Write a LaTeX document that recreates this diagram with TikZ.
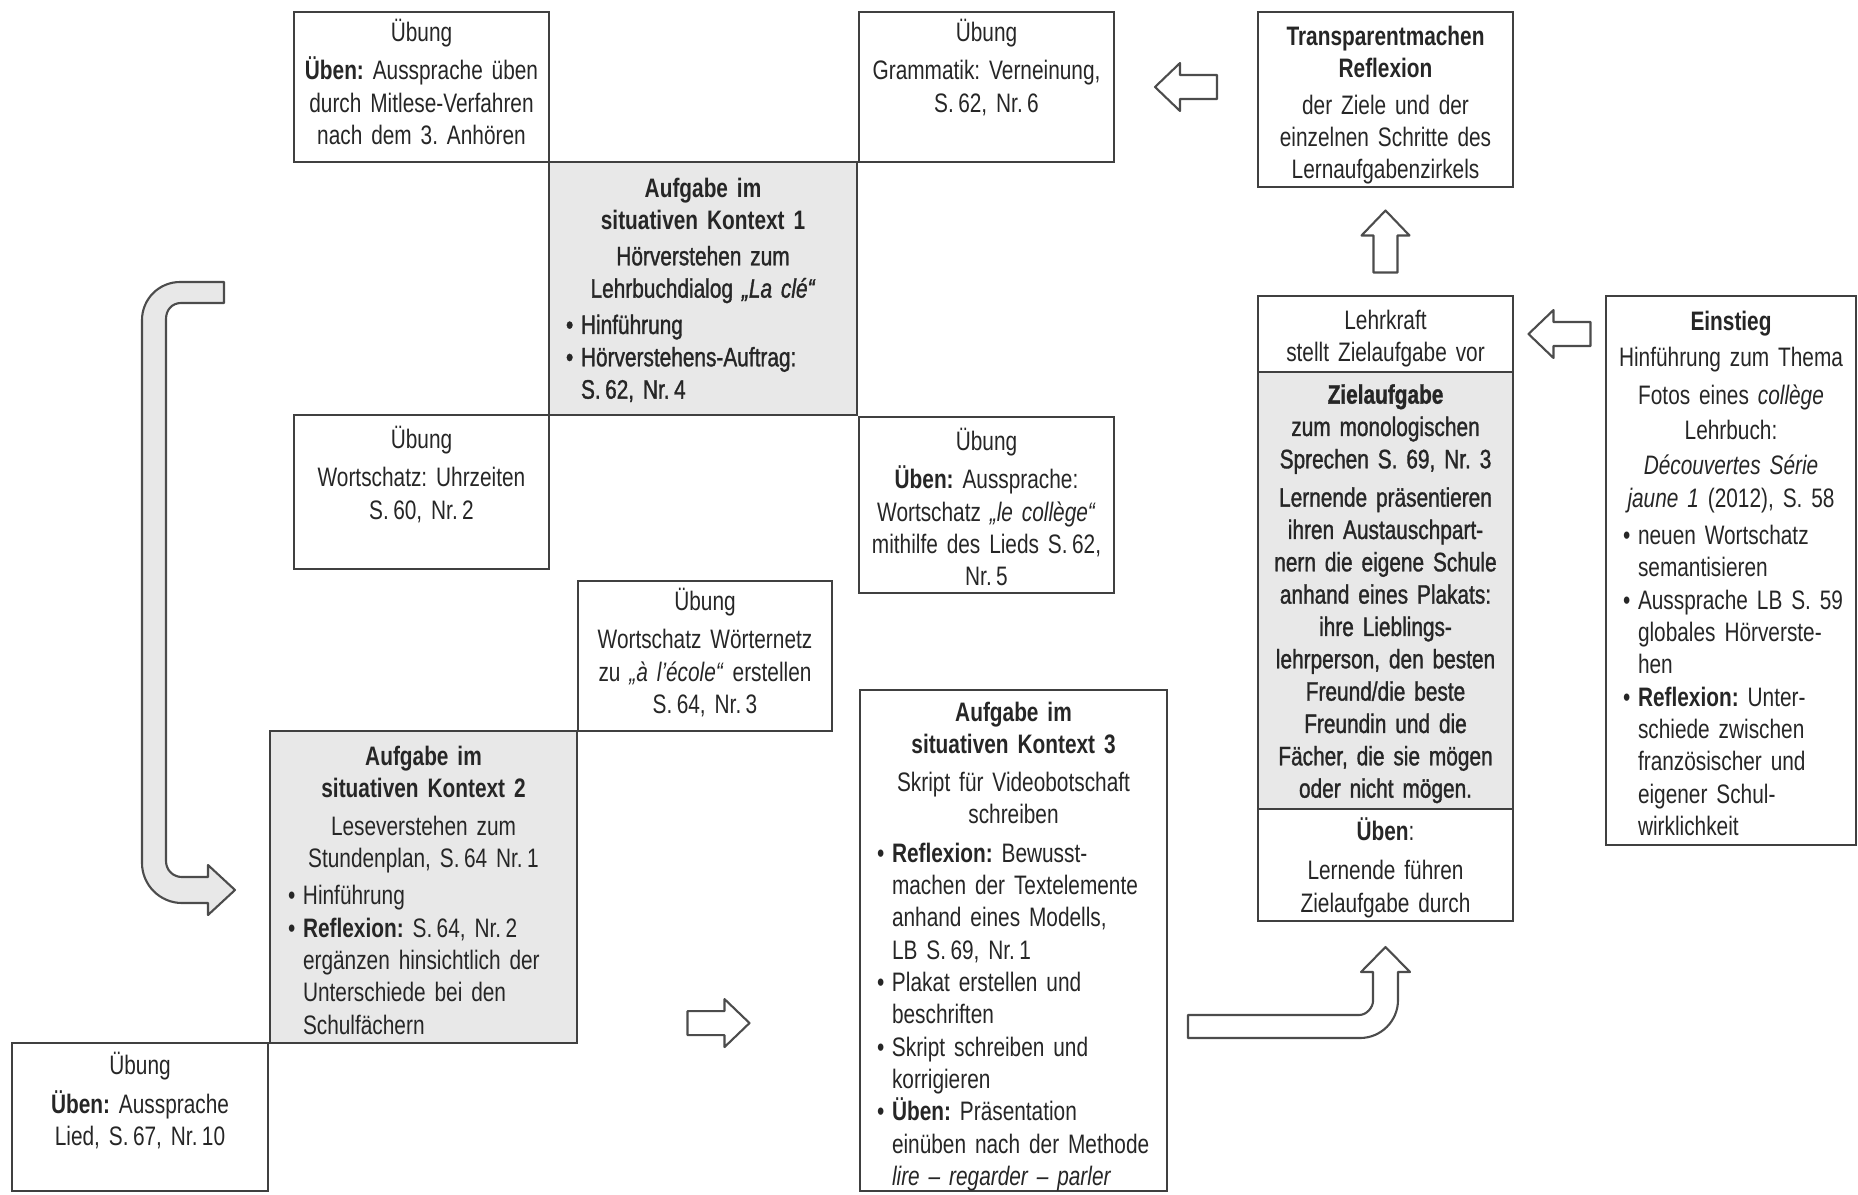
\documentclass[tikz,border=0pt]{standalone}
\usepackage{fontspec}
\setmainfont{Liberation Sans}[FakeStretch=0.78,WordSpace=0.75]
\newfontfamily\medfont{Liberation Sans}[FakeStretch=0.78,WordSpace=0.75,FakeBold=1.2]
\usetikzlibrary{positioning,fit,calc}

\frenchspacing
\newcommand{\blt}{\makebox[1.5mm][l]{\textbullet}}
\newcommand{\bltind}{\hspace*{1.5mm}}
\newcommand{\fst}[1][3.2mm]{\rule{0pt}{#1}}
\newcommand{\ctr}[1]{\makebox[\linewidth]{#1}}

\begin{document}
\begin{tikzpicture}[x=0.1mm, y=-0.1mm,
  box/.style={draw=black!75, line width=0.6pt, inner sep=0pt},
  gbox/.style={box, fill=black!9},
  txt/.style={anchor=north, inner sep=0pt, align=center, text=black!85,
    font=\fontsize{7.6}{9.2}\selectfont},
  lst/.style={txt, align=left},
  blk/.style={draw=black!70, line width=0.6pt, fill=white, line join=round},
  brk/.style={blk, fill=black!9}]

\useasboundingbox (0,0) rectangle (1858,1194);

%------------------ STAIRCASE OF EXERCISES ------------------%
\node[box, fit={(294,12) (549,162)}] (U1) {};
\node[txt, text width=25mm] (U1t) at (U1.north)
  {\fst[3mm]Übung\\[0.6mm]\textbf{Üben:} Aussprache üben\\durch Mitlese-Verfahren\\nach dem 3. Anhören};

\node[box, fit={(859,12) (1114,162)}] (U2) {};
\node[txt, text width=25mm] (U2t) at (U2.north)
  {\fst[3mm]Übung\\[0.6mm]Grammatik: Verneinung,\\S.\,62, Nr.\,6};

\node[gbox, fit={(549,162) (857,415)}] (A1) {};
\node[lst, text width=27.4mm] (A1t) at (A1.north)
  {\ctr{\fst[3.6mm]\textbf{Aufgabe im}}\\
   \ctr{\textbf{situativen Kontext 1}}\\[0.3mm]
   {\medfont\ctr{Hörverstehen zum}\\
   \ctr{Lehrbuchdialog \textit{„La clé“}}\\[0.4mm]
   \blt Hinführung\\
   \blt Hörverstehens-Auftrag:\\
   \bltind S.\,62, Nr.\,4}};

\node[box, fit={(294,415) (549,569)}] (U3) {};
\node[txt, text width=25mm] (U3t) at (U3.north)
  {\fst[3.4mm]Übung\\[0.6mm]Wortschatz: Uhrzeiten\\S.\,60, Nr.\,2};

\node[box, fit={(859,417) (1114,593)}] (U4) {};
\node[txt, text width=25mm] (U4t) at (U4.north)
  {\fst[3.4mm]Übung\\[0.6mm]\textbf{Üben:} Aussprache:\\Wortschatz \textit{„le collège“}\\mithilfe des Lieds S.\,62,\\Nr.\,5};

\node[box, fit={(578,581) (832,731)}] (U5) {};
\node[txt, text width=25mm] (U5t) at (U5.north)
  {\fst[3mm]Übung\\[0.6mm]Wortschatz Wörternetz\\zu \textit{„à l’école“} erstellen\\S.\,64, Nr.\,3};

\node[gbox, fit={(270,731) (577,1043)}] (A2) {};
\node[lst, text width=27.1mm] (A2t) at (A2.north)
  {\ctr{\fst[3.5mm]\textbf{Aufgabe im}}\\
   \ctr{\textbf{situativen Kontext 2}}\\[0.5mm]
   \ctr{Leseverstehen zum}\\
   \ctr{Stundenplan, S.\,64 Nr.\,1}\\[0.5mm]
   \blt Hinführung\\
   \blt\textbf{Reflexion:} S.\,64, Nr.\,2\\
   \bltind ergänzen hinsichtlich der\\
   \bltind Unterschiede bei den\\
   \bltind Schulfächern};

\node[box, fit={(12,1043) (268,1191)}] (U6) {};
\node[txt, text width=25mm] (U6t) at (U6.north)
  {\fst Übung\\[0.6mm]\textbf{Üben:} Aussprache\\Lied, S.\,67, Nr.\,10};

\node[box, fill=white, fit={(860,690) (1167,1191)}] (A3) {};
\node[lst, text width=27.3mm] (A3t) at (A3.north)
  {\ctr{\fst\textbf{Aufgabe im}}\\
   \ctr{\textbf{situativen Kontext 3}}\\[0.5mm]
   \ctr{Skript für Videobotschaft}\\
   \ctr{schreiben}\\[0.6mm]
   \blt\textbf{Reflexion:} Bewusst-\\
   \bltind machen der Textelemente\\
   \bltind anhand eines Modells,\\
   \bltind LB S.\,69, Nr.\,1\\
   \blt Plakat erstellen und\\
   \bltind beschriften\\
   \blt Skript schreiben und\\
   \bltind korrigieren\\
   \blt\textbf{Üben:} Präsentation\\
   \bltind\mbox{einüben nach der Methode}\\
   \bltind\textit{lire – regarder – parler}};

%------------------ RIGHT COLUMN ------------------%
\node[box, fit={(1258,12) (1513,187)}] (T) {};
\node[txt, text width=25mm] (Tt) at (T.north)
  {\fst[3.4mm]\textbf{Transparentmachen}\\\textbf{Reflexion}\\[0.4mm]der Ziele und der\\einzelnen Schritte des\\Lernaufgabenzirkels};

\node[box, fit={(1258,296) (1513,372)}] (LK) {};
\node[txt, text width=25mm] (LKt) at (LK.north)
  {\fst[3.4mm]Lehrkraft\\stellt Zielaufgabe vor};

\node[gbox, fit={(1258,372) (1513,809)}] (ZA) {};
\node[txt, text width=25mm] (ZAt) at (ZA.north)
  {\medfont\fst\textbf{Zielaufgabe}\\zum monologischen\\Sprechen S. 69, Nr. 3\\[0.6mm]Lernende präsentieren\\ihren Austauschpart-\\nern die eigene Schule\\anhand eines Plakats:\\ihre Lieblings-\\lehrperson, den besten\\Freund/die beste\\Freundin und die\\Fächer, die sie mögen\\oder nicht mögen.};

\node[box, fit={(1258,809) (1513,921)}] (UB) {};
\node[txt, text width=25mm] (UBt) at (UB.north)
  {\fst\textbf{Üben}:\\[0.7mm]Lernende führen\\Zielaufgabe durch};

\node[box, fit={(1606,296) (1856,845)}] (ES) {};
\node[lst, text width=21.6mm] (ESt) at (ES.north)
  {\ctr{\fst[3.5mm]\textbf{Einstieg}}\\[0.4mm]
   \ctr{Hinführung zum Thema}\\[0.5mm]
   \ctr{Fotos eines \textit{collège}}\\[0.3mm]
   \ctr{Lehrbuch:}\\[0.3mm]
   \ctr{\textit{Découvertes Série}}\\
   \ctr{\textit{jaune 1} (2012), S. 58}\\[0.5mm]
   \blt neuen Wortschatz\\
   \bltind semantisieren\\
   \blt\mbox{Aussprache LB S. 59}\\
   \bltind globales Hörverste-\\
   \bltind hen\\
   \blt\textbf{Reflexion:} Unter-\\
   \bltind schiede zwischen\\
   \bltind französischer und\\
   \bltind eigener Schul-\\
   \bltind wirklichkeit};

%------------------ BLOCK ARROWS ------------------%
\coordinate (la1) at ($(U2.east)!0.5!(T.west |- U2.east)$);
\draw[blk] ($(la1)+(-31,0)$) -- ++(25,-24) -- ++(0,12) -- ++(37,0)
  -- ++(0,24) -- ++(-37,0) -- ++(0,12) -- cycle;

\coordinate (la2) at ($(LK.east)!0.5!(ES.west |- LK.east)$);
\draw[blk] ($(la2)+(-31,0)$) -- ++(25,-24) -- ++(0,12) -- ++(37,0)
  -- ++(0,24) -- ++(-37,0) -- ++(0,12) -- cycle;

\coordinate (ua) at ($(T.south)!0.5!(LK.north)$);
\draw[blk] ($(ua)+(0,-31)$) -- ++(-24,25) -- ++(12,0) -- ++(0,37)
  -- ++(24,0) -- ++(0,-37) -- ++(12,0) -- cycle;

\coordinate (ra) at ($(A2.south east)!0.5!(A3.west |- A2.south east)+(0,-21)$);
\draw[blk] ($(ra)+(31,0)$) -- ++(-25,-24) -- ++(0,12) -- ++(-37,0)
  -- ++(0,24) -- ++(37,0) -- ++(0,12) -- cycle;

% bent arrow A3 -> UB
\draw[blk] (1188,1015) -- (1359,1015) .. controls (1367,1015) and (1373,1007) .. (1373,1001)
  -- (1373,972) -- (1361,972) -- (UB.south |- 0,947) -- (1410,972) -- (1398,972)
  -- (1398,1000) .. controls (1398,1021) and (1381,1038) .. (1360,1038)
  -- (1188,1038) -- cycle;

% bracket arrow U1 -> A2
\draw[brk] (224,282) -- (180,282) .. controls (159,282) and (142,299) .. (142,320)
  -- (142,863) .. controls (142,885) and (160,903) .. (182,903)
  -- (208,903) -- (208,915) -- (235,890) -- (208,865) -- (208,877)
  -- (182,877) .. controls (173,877) and (166,870) .. (166,861)
  -- (166,319) .. controls (166,310) and (172,303) .. (181,303)
  -- (224,303) -- cycle;

\end{tikzpicture}
\end{document}
